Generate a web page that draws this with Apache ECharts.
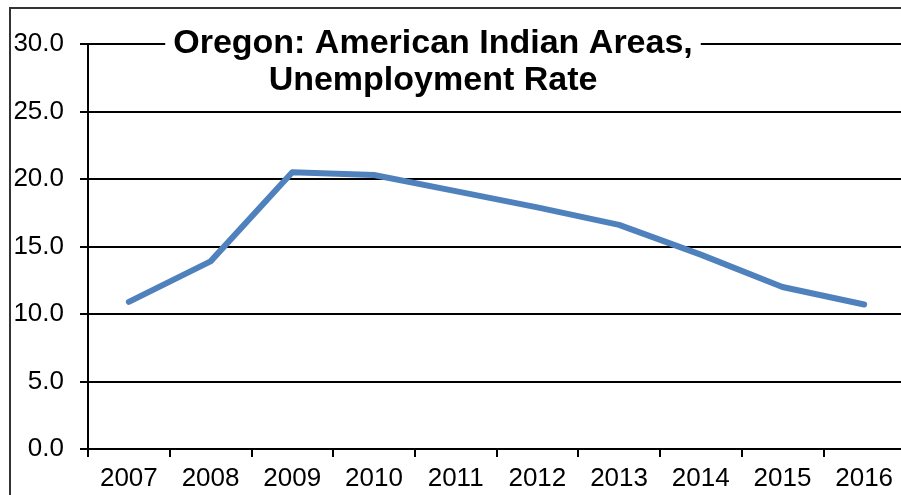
<!DOCTYPE html>
<html>
<head>
<meta charset="utf-8">
<script src="https://cdn.jsdelivr.net/npm/echarts@6/dist/echarts.min.js"></script>
<style>
  html, body { margin: 0; padding: 0; background: #fff; }
  #chart { width: 901px; height: 495px; }
</style>
</head>
<body>
<div id="chart"></div>
<script>
// 数据
var years = ['2007', '2008', '2009', '2010', '2011', '2012', '2013', '2014', '2015', '2016'];
var rates = [10.9, 13.9, 20.5, 20.3, 19.1, 17.9, 16.6, 14.4, 12.0, 10.7];
var titleLines = ['Oregon: American Indian Areas,', 'Unemployment Rate'];

var myChart = echarts.init(document.getElementById('chart'));

var option = {
  backgroundColor: '#fff',
  animation: false,
  textStyle: { fontFamily: 'Liberation Sans, Arial, sans-serif' },
  title: {
    text: titleLines.join('\n'),
    left: 425,
    top: 25,
    textAlign: 'center',
    backgroundColor: '#fff',
    padding: [0, 8, 0, 8],
    textStyle: {
      fontSize: 34,
      fontWeight: 'bold',
      color: '#000',
      lineHeight: 37
    }
  },
  graphic: [{
    type: 'rect',
    silent: true,
    shape: { x: 10, y: 8, width: 1000, height: 1000 },
    style: { fill: 'none', stroke: '#333', lineWidth: 2 }
  }],
  grid: {
    left: 88,
    width: 817,
    top: 44,
    bottom: 46,
    outerBoundsMode: 'none'
  },
  xAxis: {
    type: 'category',
    data: years,
    boundaryGap: true,
    axisLine: { lineStyle: { color: '#000', width: 2 } },
    axisTick: { show: true, length: 8, lineStyle: { color: '#000', width: 2 } },
    axisLabel: { color: '#000', fontSize: 26, margin: 17 },
    splitLine: { show: false }
  },
  yAxis: {
    type: 'value',
    min: 0,
    max: 30,
    interval: 5,
    axisLine: { show: true, lineStyle: { color: '#000', width: 2 } },
    axisTick: { show: true, length: 8, lineStyle: { color: '#000', width: 2 } },
    axisLabel: {
      color: '#000',
      fontSize: 26,
      margin: 24,
      formatter: function (v) { return v.toFixed(1); }
    },
    splitLine: { show: true, lineStyle: { color: '#000', width: 2 } }
  },
  series: [{
    type: 'line',
    data: rates,
    symbol: 'none',
    lineStyle: { color: '#4F81BD', width: 6, join: 'round', cap: 'round' }
  }]
};

myChart.setOption(option);
window.onresize = myChart.resize;
</script>
</body>
</html>
